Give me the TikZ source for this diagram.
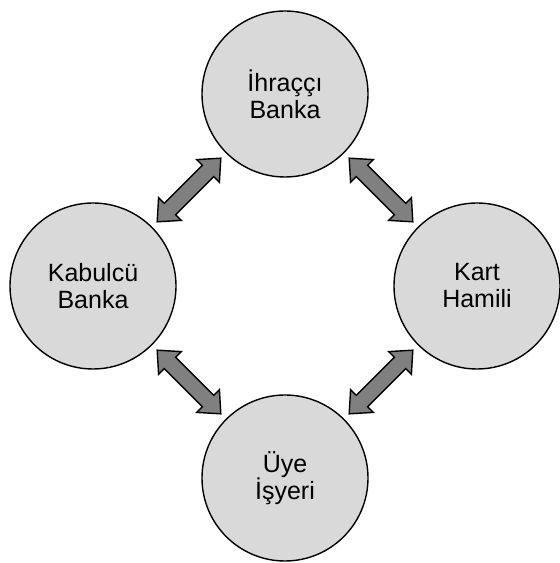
\documentclass[tikz,border=0pt]{standalone}
\usepackage{fontspec}
\setmainfont{Liberation Sans}
\usetikzlibrary{positioning,calc}
\definecolor{circlegray}{HTML}{D9D9D9}
\definecolor{arrowgray}{HTML}{808080}

\begin{document}
\begin{tikzpicture}[x=1pt,y=1pt]
\tikzset{node distance=192pt,
    party/.style={circle, draw, line width=1.4pt, fill=circlegray, minimum size=166pt, inner sep=0pt,
        align=center, font=\fontsize{25}{27}\selectfont},
    twoway/.pic={\draw[line width=1.4pt, fill=arrowgray, line join=miter]
        (-45,0) -- (-27,16) -- (-27,8) -- (27,8) -- (27,16) -- (45,0)
        -- (27,-16) -- (27,-8) -- (-27,-8) -- (-27,-16) -- cycle;}
}

  \useasboundingbox (0,0) rectangle (560,563);
  \node[coordinate] (mid) at (285,277) {};
  \node[party, above of=mid] (issuer) {İhraççı\\Banka};
  \node[party, left of=mid] (acquirer) {Kabulcü\\Banka};
  \node[party, right of=mid] (holder) {Kart\\Hamili};
  \node[party, below of=mid] (merchant) {Üye\\İşyeri};
  \pic[rotate=45] at ($(acquirer)!0.5!(issuer)$) {twoway};
  \pic[rotate=-45] at ($(issuer)!0.5!(holder)$) {twoway};
  \pic[rotate=45] at ($(merchant)!0.5!(holder)$) {twoway};
  \pic[rotate=-45] at ($(acquirer)!0.5!(merchant)$) {twoway};
\end{tikzpicture}
\end{document}
